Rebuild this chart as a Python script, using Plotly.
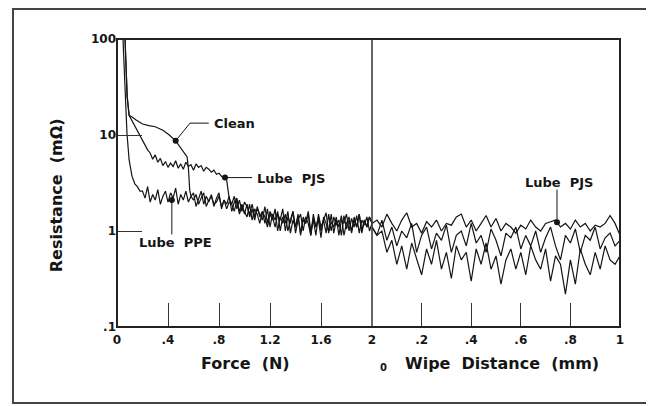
import math
import plotly.graph_objects as go

# ---------------- data ----------------
# Force section (N), left panel
ppe_head_x = [0.047, 0.055, 0.065, 0.078, 0.095, 0.118, 0.14, 0.16, 0.18]
ppe_head_y = [100, 50, 22, 10.5, 5.5, 3.7, 3.1, 2.9, 2.6]
ppe_noise_start = 0.20
ppe_noise = [
    2.6, 2.2, 2.9, 2.0, 2.4, 2.1, 2.7, 1.9, 2.3, 2.6,
    2.0, 2.5, 2.2, 2.8, 1.9, 2.4, 2.1, 2.6, 2.0, 2.3,
    2.5, 1.8, 2.2, 2.6, 1.9, 2.3, 2.0, 2.4, 1.8, 2.2,
    2.5, 1.7, 2.1, 1.9, 2.3, 1.6, 2.0, 2.2, 1.6, 1.9,
    1.5, 1.9, 1.4, 1.7, 1.3, 1.8, 1.4, 1.6, 1.2, 1.7,
    1.1, 1.5, 1.3, 1.6, 1.0, 1.4, 1.2, 1.6, 0.95, 1.3,
    1.1, 1.5, 0.9, 1.4, 1.2, 1.6, 1.0, 1.3, 0.9, 1.5,
    1.1, 1.3, 0.95, 1.5, 1.0, 1.4, 1.15, 1.3, 0.9, 1.45,
    1.05, 1.3, 0.95, 1.4, 1.1, 1.5, 1.0, 1.3, 1.1, 1.4,
    1.2,
]

pjs_head_x = [0.063, 0.07, 0.08, 0.095, 0.118, 0.16, 0.2, 0.24]
pjs_head_y = [100, 45, 25, 16, 14, 11, 8.9, 7.0]
pjs_mid_start = 0.26
pjs_mid = [
    6.5, 5.6, 6.2, 5.2, 5.7, 4.8, 5.3, 4.6, 5.1, 4.7,
    5.4, 4.5, 5.0, 4.4, 5.2, 4.7, 4.9, 4.3, 5.0, 4.6,
    4.8, 4.2, 4.6, 4.4, 4.1, 4.3, 3.9, 4.0, 3.7, 3.6,
]
pjs_drop_x = [0.86, 0.868, 0.874, 0.88]
pjs_drop_y = [3.4, 3.0, 2.5, 2.2]
pjs_noise_start = 0.90
pjs_noise = [
    1.9, 2.3, 1.7, 2.1, 1.6, 2.0, 1.8, 1.5, 1.9, 1.4,
    1.7, 1.5, 1.3, 1.8, 1.2, 1.6, 1.4, 1.1, 1.5, 1.3,
    1.7, 1.0, 1.4, 1.2, 1.6, 0.95, 1.3, 1.5, 1.0, 1.4,
    1.2, 0.9, 1.5, 1.1, 1.3, 0.85, 1.4, 1.2, 1.0, 1.5,
    0.95, 1.3, 1.1, 1.45, 0.9, 1.2, 1.4, 1.0, 1.3, 1.1,
    1.5, 0.95, 1.3, 1.1, 1.4, 1.2,
]

clean_head_x = [0.063, 0.07, 0.08, 0.095, 0.118, 0.15, 0.2, 0.25, 0.3, 0.36,
                0.41, 0.46, 0.5, 0.53, 0.55, 0.56, 0.565, 0.57, 0.58]
clean_head_y = [100, 45, 25, 16, 15.4, 14.3, 13.0, 12.5, 12.2, 11.2,
                10.0, 8.7, 7.4, 6.5, 5.9, 4.5, 3.4, 2.7, 2.3]
clean_noise_start = 0.60
clean_noise = [
    2.1, 2.4, 1.9, 2.2, 2.5, 1.8, 2.1, 2.3, 1.9, 2.0,
    2.3, 1.8, 2.1, 1.7, 2.0, 1.9, 1.6, 2.1, 1.5, 1.8,
    1.6, 1.4, 1.9, 1.3, 1.7, 1.5, 1.2, 1.6, 1.4, 1.1,
    1.5, 1.3, 1.7, 1.0, 1.4, 1.2, 1.5, 1.0, 1.3, 1.6,
    1.1, 1.4, 0.95, 1.3, 1.2, 1.5, 0.9, 1.35, 1.1, 1.4,
    1.0, 1.3, 1.55, 0.95, 1.25, 1.1, 1.4, 0.9, 1.3, 1.2,
    1.5, 1.0, 1.35, 1.1, 1.45, 0.95, 1.3, 1.15, 1.4, 1.0,
    1.2,
]
force_step = 0.02

# Wipe section (mm), right panel, sampled every 0.02 mm from 0 to 1
wipe_step = 0.02
wipe_upper = [
    1.2, 1.3, 1.1, 1.5, 1.2, 1.0, 1.3, 1.55, 1.1, 1.2,
    0.95, 1.25, 1.1, 1.3, 1.0, 1.2, 1.15, 1.4, 1.5, 1.1,
    1.3, 1.0, 1.2, 1.45, 1.1, 1.35, 1.0, 1.2, 1.1, 0.95,
    1.15, 1.05, 1.3, 1.1, 1.0, 1.2, 1.25, 1.3, 1.1, 1.2,
    1.05, 1.3, 1.1, 1.2, 1.0, 1.15, 1.1, 1.2, 1.45, 1.2,
    0.9,
]
wipe_middle = [
    1.1, 0.9, 1.3, 0.8, 1.1, 0.7, 1.0, 0.85, 1.2, 0.6,
    0.9, 1.1, 0.65, 0.95, 0.8, 1.15, 0.6, 0.9, 1.0, 0.7,
    1.2, 0.75, 0.9, 0.6, 1.05, 0.8, 0.55, 0.95, 0.85, 1.1,
    0.65, 0.9, 0.7, 1.0, 0.6, 0.85, 1.1, 0.7, 0.5, 0.9,
    0.75, 1.05, 0.6, 0.9, 0.8, 1.1, 0.65, 0.85, 0.95, 0.7,
    0.8,
]
wipe_lower = [
    1.1, 0.9, 1.0, 0.6, 0.8, 0.45, 0.7, 0.4, 0.75, 0.5,
    0.35, 0.65, 0.45, 0.8, 0.4, 0.6, 0.32, 0.7, 0.5, 0.6,
    0.3, 0.65, 0.45, 0.75, 0.4, 0.55, 0.28, 0.5, 0.65, 0.4,
    0.6, 0.35, 0.7, 0.5, 0.4, 0.65, 0.3, 0.55, 0.45, 0.22,
    0.5, 0.28, 0.65, 0.45, 0.35, 0.6, 0.4, 0.7, 0.5, 0.45,
    0.55,
]

# tick labels
force_ticks = [0, 0.4, 0.8, 1.2, 1.6, 2]
force_ticktext = ["0", ".4", ".8", "1.2", "1.6", "2"]
wipe_ticks = [0.2, 0.4, 0.6, 0.8, 1]
wipe_ticktext = [".2", ".4", ".6", ".8", "1"]
res_ticks = [0.1, 1, 10, 100]
res_ticktext = [".1", "1", "10", "100"]

# label anchor points (data coordinates)
clean_pt = (0.46, 8.7)
pjs_pt = (0.847, 3.6)
ppe_pt = (0.43, 2.1)
pjs_wipe_pt = (0.746, 1.23)

# ---------------- figure ----------------
INK = "#151515"
FONT = "DejaVu Sans"
SP = "\u00a0"


def grid(start, n, step):
    return [round(start + step * i, 4) for i in range(n)]


fig = go.Figure()


def line(x, y, xa="x", w=1.2):
    fig.add_trace(go.Scatter(x=x, y=y, mode="lines", xaxis=xa, yaxis="y",
                             line=dict(color=INK, width=w), showlegend=False,
                             hoverinfo="skip"))


line(ppe_head_x + grid(ppe_noise_start, len(ppe_noise), force_step),
     ppe_head_y + ppe_noise)
line(pjs_head_x + grid(pjs_mid_start, len(pjs_mid), force_step) + pjs_drop_x
     + grid(pjs_noise_start, len(pjs_noise), force_step),
     pjs_head_y + pjs_mid + pjs_drop_y + pjs_noise)
line(clean_head_x + grid(clean_noise_start, len(clean_noise), force_step),
     clean_head_y + clean_noise)

line(grid(0, len(wipe_upper), wipe_step), wipe_upper, "x2")
line(grid(0, len(wipe_middle), wipe_step), wipe_middle, "x2")
line(grid(0, len(wipe_lower), wipe_step), wipe_lower, "x2")

# leader lines
line([clean_pt[0], 0.573, 0.72], [clean_pt[1], 13.3, 13.3], w=1)
line([pjs_pt[0], 1.06], [pjs_pt[1], pjs_pt[1]], w=1)
line([ppe_pt[0], ppe_pt[0]], [ppe_pt[1], 0.92], w=1)
line([pjs_wipe_pt[0], pjs_wipe_pt[0]], [pjs_wipe_pt[1], 2.7], "x2", w=1)

fig.add_trace(go.Scatter(x=[clean_pt[0], pjs_pt[0], ppe_pt[0]],
                         y=[clean_pt[1], pjs_pt[1], ppe_pt[1]],
                         mode="markers", marker=dict(color=INK, size=6),
                         showlegend=False, hoverinfo="skip"))
fig.add_trace(go.Scatter(x=[pjs_wipe_pt[0]], y=[pjs_wipe_pt[1]], xaxis="x2",
                         mode="markers", marker=dict(color=INK, size=6),
                         showlegend=False, hoverinfo="skip"))

tickfont = dict(family=FONT, size=12, color=INK, weight="bold")
common_x = dict(showgrid=False, zeroline=False, showline=False, ticks="inside",
                ticklen=24, tickwidth=1.2, tickcolor="#333", tickfont=tickfont,
                anchor="y", fixedrange=True, ticklabelstandoff=4)

split = 255 / 503

fig.update_layout(
    width=646, height=398,
    margin=dict(l=109, r=34, t=31, b=79),
    paper_bgcolor="white", plot_bgcolor="white",
    xaxis=dict(domain=[0, split], range=[0, 2], tickvals=force_ticks,
               ticktext=force_ticktext, **common_x),
    xaxis2=dict(domain=[split, 1], range=[0, 1], tickvals=wipe_ticks,
                ticktext=wipe_ticktext, **common_x),
    yaxis=dict(type="log", range=[-1, 2], tickvals=res_ticks,
               ticktext=res_ticktext, showgrid=False, zeroline=False,
               showline=False, ticks="inside", ticklen=25, tickwidth=1.2,
               tickcolor="#333", tickfont=tickfont, fixedrange=True),
)

# frames
fig.add_shape(type="rect", xref="paper", yref="paper", x0=0, x1=1, y0=0, y1=1,
              line=dict(color="#222", width=2))
fig.add_shape(type="line", xref="paper", yref="paper", x0=split, x1=split,
              y0=0, y1=1, line=dict(color="#333", width=1.5))
fig.add_shape(type="path", xref="paper", yref="paper",
              path="M 1.08,1.1042 L -0.2068,1.1042 L -0.2068,-0.2639 L 1.08,-0.2639",
              line=dict(color="#444", width=2))

labfont = dict(family=FONT, size=13, color=INK, weight="bold")
titlefont = dict(family=FONT, size=16, color=INK, weight="bold")
lg = math.log10

fig.add_annotation(x=0.745, y=lg(13.3), xref="x", yref="y", yanchor="middle",
                   xanchor="left", text="Clean", showarrow=False, font=labfont)
fig.add_annotation(x=1.08, y=lg(3.5), xref="x", yref="y", xanchor="left",
                   yanchor="middle", text="Lube" + SP + SP + "PJS",
                   showarrow=False, font=labfont)
fig.add_annotation(x=0.455, y=lg(0.75), xref="x", yref="y", xanchor="center",
                   yanchor="middle", text="Lube" + SP + SP + "PPE",
                   showarrow=False, font=labfont)
fig.add_annotation(x=0.754, y=lg(3.2), xref="x2", yref="y", xanchor="center",
                   yanchor="middle", text="Lube" + SP + SP + "PJS",
                   showarrow=False, font=labfont)

fig.add_annotation(x=0.256, y=-0.125, xref="paper", yref="paper",
                   xanchor="center", yanchor="middle",
                   text="Force" + SP + SP + "(N)", showarrow=False, font=titlefont)
fig.add_annotation(x=0.765, y=-0.125, xref="paper", yref="paper",
                   xanchor="center", yanchor="middle",
                   text="Wipe" + SP + SP + "Distance" + SP + SP + "(mm)",
                   showarrow=False, font=titlefont)
fig.add_annotation(x=0.529, y=-0.139, xref="paper", yref="paper",
                   xanchor="center", yanchor="middle", text="0", showarrow=False,
                   font=dict(family=FONT, size=10, color=INK, weight="bold"))
fig.add_annotation(x=-0.121, y=0.458, xref="paper", yref="paper",
                   xanchor="center", yanchor="middle",
                   text="Resistance" + SP + SP + "(mΩ)", textangle=-90,
                   showarrow=False, font=titlefont)

fig.write_html("out.html")
